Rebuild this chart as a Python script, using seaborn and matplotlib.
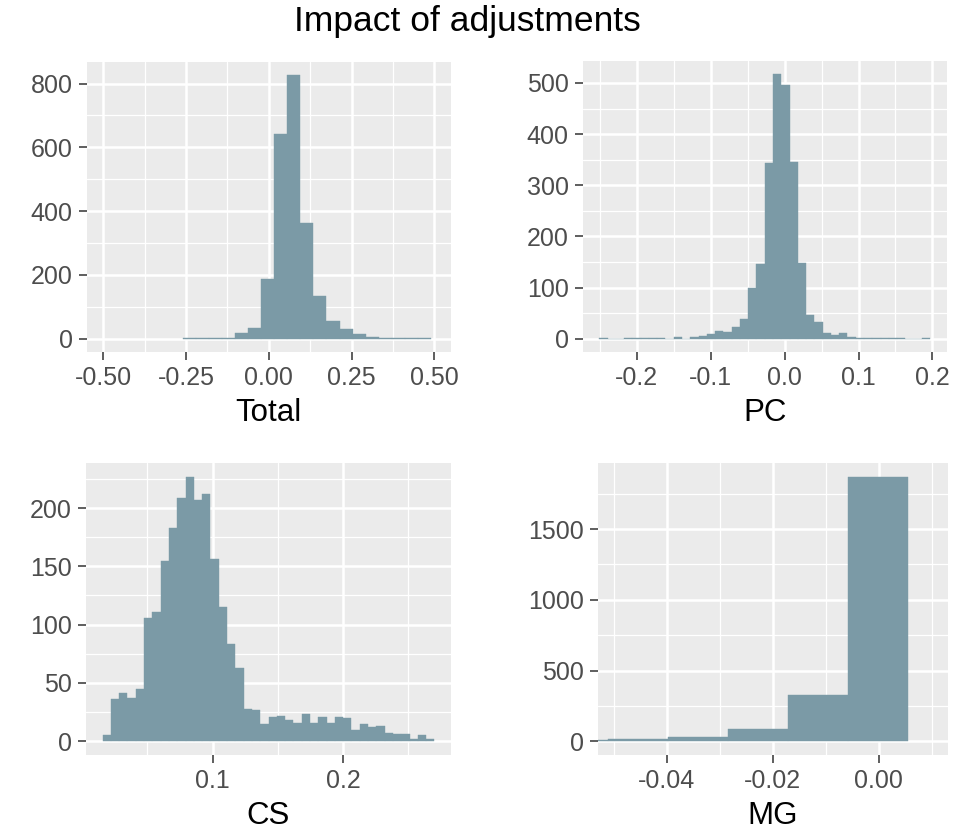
import numpy as np
import pandas as pd
import matplotlib
matplotlib.use("Agg")
import matplotlib.pyplot as plt
from matplotlib.ticker import FixedLocator
import seaborn as sns

# ---------------- data ----------------
title = "Impact of adjustments"

total_label = "Total"
total_range = (-0.259, 0.489)
total_counts = [1, 1, 2, 2, 19, 34, 186, 642, 827, 362, 133, 57, 32, 14, 5, 1, 1, 1, 1]
total_xticks = [-0.50, -0.25, 0.00, 0.25, 0.50]
total_xticklabels = ["-0.50", "-0.25", "0.00", "0.25", "0.50"]
total_yticks = [0, 200, 400, 600, 800]

pc_label = "PC"
pc_range = (-0.251, 0.197)
pc_counts = [2, 0, 0, 2, 1, 1, 1, 2, 0, 3, 0, 3, 6, 9, 16, 14, 23, 39, 99, 147,
             344, 517, 496, 346, 149, 46, 32, 12, 7, 11, 3, 1, 1, 1, 1, 1, 1, 0, 0, 2]
pc_xticks = [-0.2, -0.1, 0.0, 0.1, 0.2]
pc_xticklabels = ["-0.2", "-0.1", "0.0", "0.1", "0.2"]
pc_yticks = [0, 100, 200, 300, 400, 500]

cs_label = "CS"
cs_range = (0.0158, 0.2699)
cs_counts = [5, 36, 41, 37, 45, 106, 111, 155, 183, 209, 227, 207, 212, 156, 115, 83,
             63, 28, 27, 15, 21, 22, 18, 16, 23, 16, 21, 16, 21, 20, 10, 15, 12, 13,
             7, 6, 6, 2, 5, 2]
cs_xticks = [0.1, 0.2]
cs_xticklabels = ["0.1", "0.2"]
cs_yticks = [0, 50, 100, 150, 200]

mg_label = "MG"
mg_range = (-0.0623, 0.00558)
mg_counts = [7, 14, 28, 87, 327, 1872]
mg_xticks = [-0.04, -0.02, 0.00]
mg_xticklabels = ["-0.04", "-0.02", "0.00"]
mg_yticks = [0, 500, 1000, 1500]

# ---------------- styling ----------------
FILL = "#7b9aa6"
PANEL_BG = "#EBEBEB"

sns.set_theme(style="darkgrid", rc={"axes.facecolor": PANEL_BG})
plt.rcParams["font.family"] = ["Liberation Sans", "DejaVu Sans"]
plt.rcParams["axes.unicode_minus"] = False

fig = plt.figure(figsize=(9.72, 8.32), dpi=100)
W, H = 972.0, 832.0


def add_axes(left, top, right, bottom):
    return fig.add_axes([left / W, 1 - bottom / H, (right - left) / W, (bottom - top) / H])


panels = [
    dict(ax=add_axes(86.7, 61.7, 451.0, 352.0), label=total_label, rng=total_range,
         counts=total_counts, xticks=total_xticks, xtl=total_xticklabels, yticks=total_yticks,
         xlim=(-0.55, 0.55), xminor=[-0.375, -0.125, 0.125, 0.375], yminor=[100, 300, 500, 700]),
    dict(ax=add_axes(582.7, 61.0, 946.7, 352.0), label=pc_label, rng=pc_range,
         counts=pc_counts, xticks=pc_xticks, xtl=pc_xticklabels, yticks=pc_yticks,
         xlim=None, xminor=[-0.25, -0.15, -0.05, 0.05, 0.15], yminor=[50, 150, 250, 350, 450]),
    dict(ax=add_axes(86.0, 463.3, 451.0, 754.5), label=cs_label, rng=cs_range,
         counts=cs_counts, xticks=cs_xticks, xtl=cs_xticklabels, yticks=cs_yticks,
         xlim=None, xminor=[0.05, 0.15, 0.25], yminor=[25, 75, 125, 175, 225]),
    dict(ax=add_axes(597.7, 463.3, 947.7, 754.5), label=mg_label, rng=mg_range,
         counts=mg_counts, xticks=mg_xticks, xtl=mg_xticklabels, yticks=mg_yticks,
         xlim=(-0.0530, 0.0130), xminor=[-0.05, -0.03, -0.01, 0.01], yminor=[250, 750, 1250, 1750]),
]

for p in panels:
    ax = p["ax"]
    counts = np.asarray(p["counts"], dtype=float)
    edges = np.linspace(p["rng"][0], p["rng"][1], len(counts) + 1)
    centers = (edges[:-1] + edges[1:]) / 2
    df = pd.DataFrame({"value": centers, "count": counts})
    sns.histplot(data=df, x="value", weights="count", bins=edges.tolist(), ax=ax,
                 color=FILL, alpha=1, edgecolor=FILL, linewidth=0.3)
    # ggplot-like expansion
    if p["xlim"] is None:
        span = edges[-1] - edges[0]
        ax.set_xlim(edges[0] - 0.05 * span, edges[-1] + 0.05 * span)
    else:
        ax.set_xlim(*p["xlim"])
    ymax = counts.max()
    ax.set_ylim(-0.05 * ymax, 1.05 * ymax)

    ax.set_xticks(p["xticks"])
    ax.set_xticklabels(p["xtl"])
    ax.set_yticks(p["yticks"])
    ax.set_yticklabels([str(v) for v in p["yticks"]])
    ax.xaxis.set_minor_locator(FixedLocator(p["xminor"]))
    ax.yaxis.set_minor_locator(FixedLocator(p["yminor"]))

    ax.set_axisbelow(True)
    ax.grid(which="major", color="white", linewidth=1.8)
    ax.grid(which="minor", color="white", linewidth=0.9)
    for s in ax.spines.values():
        s.set_visible(False)
    ax.tick_params(which="major", length=5.6, width=1.1, color="#333333",
                   labelcolor="#4D4D4D", labelsize=18, pad=4.5,
                   bottom=True, left=True)
    ax.tick_params(which="minor", length=0)
    ax.set_ylabel("")
    ax.set_xlabel(p["label"], fontsize=22.5, color="black", labelpad=6)

fig.text(467 / W, 1 - 22 / H, title, ha="center", va="center", fontsize=25.5, color="black")

fig.savefig("out.png", dpi=100, facecolor="white")
